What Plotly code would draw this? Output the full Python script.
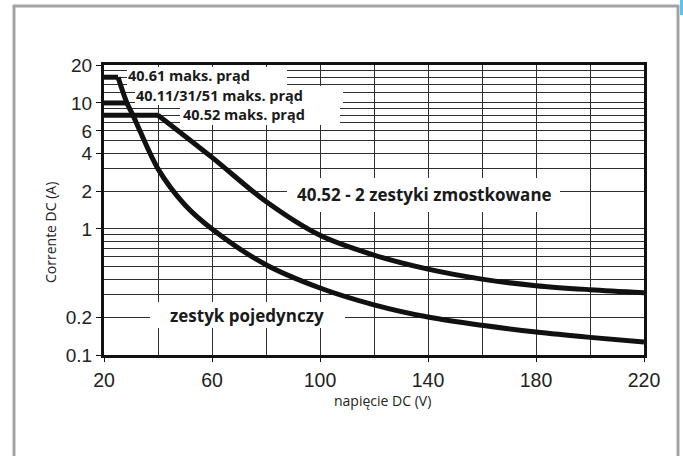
import plotly.graph_objects as go

# ---------------- data ----------------
single_volts = [25.2, 28.5, 30.7, 33.3, 40, 50, 60, 80, 100, 120, 140, 160, 180, 200, 220]
single_amps = [16, 10, 8, 6, 3.0, 1.55, 1.0, 0.52, 0.34, 0.25, 0.20, 0.172, 0.152, 0.138, 0.127]

bridged_volts = [40, 60, 80, 100, 120, 140, 160, 180, 200, 220]
bridged_amps = [8, 3.7, 1.65, 0.89, 0.62, 0.48, 0.40, 0.355, 0.33, 0.312]

limit_labels = ["40.61 maks. prąd", "40.11/31/51 maks. prąd", "40.52 maks. prąd"]
limit_amps = [16, 10, 8]
limit_end_volts = [25.2, 28.5, 40]

x_tick_vals = [20, 60, 100, 140, 180, 220]
x_minor_vals = [40, 80, 120, 160, 200]
y_tick_vals = [0.1, 0.2, 1, 2, 4, 6, 10, 20]
y_tick_text = ["0.1", "0.2", "1", "2", "4", "6", "10", "20"]
y_minor_vals = [0.3, 0.4, 0.5, 0.6, 0.7, 0.8, 0.9, 3, 5, 7, 8, 9, 12, 14, 16, 18]

curve_labels = ["40.52 - 2 zestyki zmostkowane", "zestyk pojedynczy"]
x_title = "napięcie DC (V)"
y_title = "Corrente DC (A)"

# ---------------- layout helpers (pixel -> paper) ----------------
W, H = 683, 456
L, R, T, B = 104, 644, 65, 355


def px(x):
    return (x - L) / (R - L)


def py(y):
    return (B - y) / (B - T)


fig = go.Figure()

LINE = dict(color="#111111", width=5)
for amp, v_end in zip(limit_amps, limit_end_volts):
    fig.add_trace(go.Scatter(x=[20, v_end], y=[amp, amp], mode="lines",
                             line=LINE, hoverinfo="skip", showlegend=False))

fig.add_trace(go.Scatter(x=single_volts, y=single_amps, mode="lines",
                         line=dict(color="#111111", width=5, shape="spline", smoothing=0.9),
                         showlegend=False))
fig.add_trace(go.Scatter(x=bridged_volts, y=bridged_amps, mode="lines",
                         line=dict(color="#111111", width=5, shape="spline", smoothing=0.9),
                         showlegend=False))

GRID = "#2e2e2e"
fig.update_xaxes(range=[20, 220], tickmode="array", tickvals=x_tick_vals,
                 showgrid=True, gridcolor=GRID, gridwidth=1,
                 showline=True, linecolor="#111111", linewidth=3, mirror=True,
                 ticks="outside", ticklen=4, tickcolor="#111111", tickwidth=1,
                 tickfont=dict(family="Liberation Sans, Arial", size=19.5, color="#222"),
                 ticklabelstandoff=2,
                 minor=dict(tickmode="array", tickvals=x_minor_vals, showgrid=True,
                            gridcolor=GRID, gridwidth=1, ticks=""),
                 zeroline=False)
fig.update_yaxes(type="log", range=[-1, 1.30103], tickmode="array",
                 tickvals=y_tick_vals, ticktext=y_tick_text,
                 showgrid=True, gridcolor=GRID, gridwidth=1,
                 showline=True, linecolor="#111111", linewidth=3, mirror=True,
                 ticks="outside", ticklen=5, tickcolor="#111111", tickwidth=1,
                 tickfont=dict(family="Liberation Sans, Arial", size=19, color="#222"),
                 minor=dict(tickmode="array", tickvals=y_minor_vals, showgrid=True,
                            gridcolor=GRID, gridwidth=1, ticks=""),
                 zeroline=False)

shapes = []
annotations = []
LIM_FONT = dict(family="Open Sans, Noto Sans", size=14.5, color="#1a1a1a")
CUR_FONT = dict(family="Open Sans, Noto Sans", size=17, color="#1a1a1a")

# label boxes: (text, box x0, x1, y0, y1, text-left x, text center y, font)
boxes = [
    (limit_labels[0], 127, 287, 67, 86, 127, 76, LIM_FONT),
    (limit_labels[1], 135, 343, 86, 105, 135, 95, LIM_FONT),
    (limit_labels[2], 180, 340, 105, 125, 182, 114, LIM_FONT),
    (curve_labels[0], 287, 560, 178, 212, 296, 194, CUR_FONT),
    (curve_labels[1], 150, 345, 302, 328, 169, 315, CUR_FONT),
]
# white masking boxes first
for text, x0, x1, y0, y1, tx, ty, fnt in boxes:
    annotations.append(dict(text=" ", xref="paper", yref="paper",
                            x=px(x0), y=py((y0 + y1) / 2), xanchor="left", yanchor="middle",
                            width=x1 - x0, height=y1 - y0, bgcolor="white", borderpad=0,
                            borderwidth=0, showarrow=False, font=dict(size=4)))
for text, x0, x1, y0, y1, tx, ty, fnt in boxes:
    annotations.append(dict(text="<b>%s</b>" % text, xref="paper", yref="paper",
                            x=px(tx), y=py(ty), xanchor="left", yanchor="middle",
                            showarrow=False, font=fnt, borderpad=0))

annotations.append(dict(text=x_title, xref="paper", yref="paper", x=px(382), y=py(400),
                        xanchor="center", yanchor="middle", showarrow=False,
                        font=dict(family="Open Sans, Noto Sans", size=14, color="#222")))
annotations.append(dict(text=y_title, xref="paper", yref="paper", x=px(50), y=py(233),
                        xanchor="center", yanchor="middle", showarrow=False, textangle=-90,
                        font=dict(family="Open Sans, Noto Sans", size=14, color="#222")))

# outer gray frame (left, top, right) and blue tab
FRAME = dict(color="#a3a3a3", width=3)
shapes.append(dict(type="line", xref="paper", yref="paper",
                   x0=px(14), x1=px(14), y0=py(470), y1=py(5), line=FRAME))
shapes.append(dict(type="line", xref="paper", yref="paper",
                   x0=px(13), x1=px(679), y0=py(6), y1=py(6), line=FRAME))
shapes.append(dict(type="line", xref="paper", yref="paper",
                   x0=px(678), x1=px(678), y0=py(470), y1=py(5), line=FRAME))
shapes.append(dict(type="rect", xref="paper", yref="paper",
                   x0=px(680), x1=px(690), y0=py(15), y1=py(-5),
                   line=dict(width=0), fillcolor="#5bc3ec", layer="above"))

fig.update_layout(width=W, height=H, margin=dict(l=L, r=W - R, t=T, b=H - B),
                  paper_bgcolor="white", plot_bgcolor="white",
                  shapes=shapes, annotations=annotations, showlegend=False)

fig.write_html("out.html", config={"displayModeBar": False},
               post_script="document.body.style.margin='0px';"
                           "document.body.style.overflow='hidden';")
